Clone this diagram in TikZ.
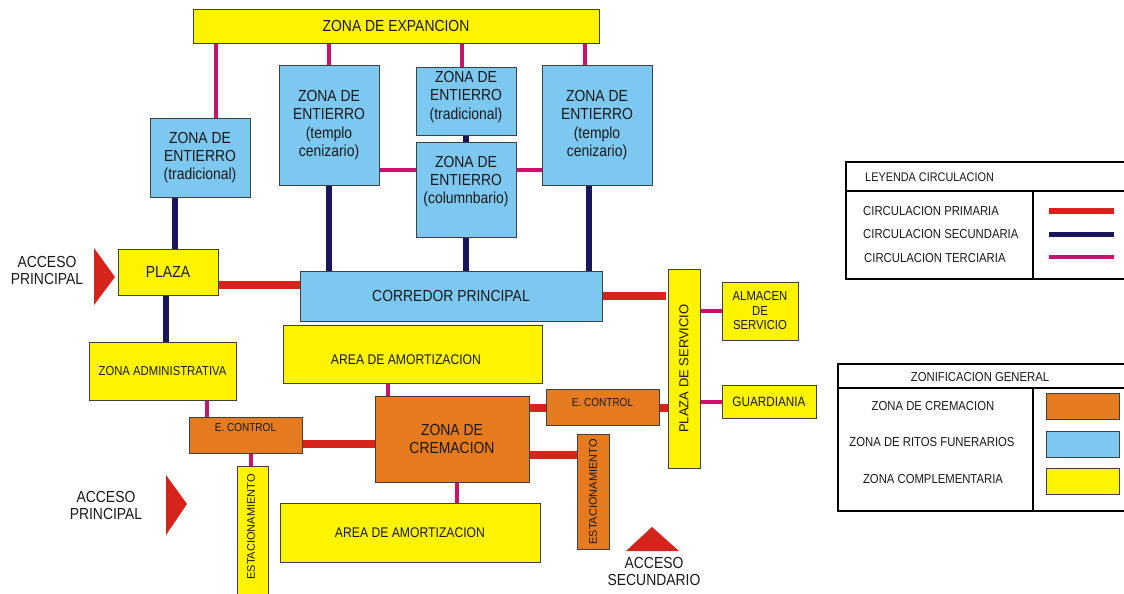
\documentclass[tikz,border=0pt]{standalone}
\usepackage{fontspec}
\setmainfont{Liberation Sans}[FakeStretch=0.87]
\newfontfamily\plainsans{Liberation Sans}
\usetikzlibrary{backgrounds}
\definecolor{zyellow}{RGB}{255,244,0}
\definecolor{zblue}{RGB}{125,200,240}
\definecolor{zorange}{RGB}{229,122,30}
\definecolor{cred}{RGB}{214,36,28}
\definecolor{cnavy}{RGB}{26,22,92}
\definecolor{cmag}{RGB}{200,18,110}
\definecolor{ink}{RGB}{25,25,25}

\begin{document}
\begin{tikzpicture}[x=1pt,y=-1pt,
  every node/.style={text=ink},
  zone/.style={draw=black!75, line width=0.8pt, inner sep=0pt, align=center,
    font=\fontsize{16}{18.3}\selectfont},
  yel/.style={zone, fill=zyellow},
  blu/.style={zone, fill=zblue},
  ora/.style={zone, fill=zorange},
  lbl/.style={inner sep=0pt, align=center},
  vert/.style={lbl, rotate=90, font=\plainsans\fontsize{11}{12}\selectfont},
  prim/.style={draw=cred, line width=8pt},
  secu/.style={draw=cnavy, line width=6pt},
  terc/.style={draw=cmag, line width=4pt},
  access/.style={fill=cred, draw=none},
  frame/.style={draw=black, line width=2.4pt},
  legtext/.style={lbl, font=\fontsize{13}{15}\selectfont}
]
\useasboundingbox (0,0) rectangle (1124,594);
\clip (0,0) rectangle (1124,594);

% --- ritual zones and expansion area
\node[yel, minimum width=406, minimum height=34] (exp) at (396,26) {ZONA DE EXPANCION};
\node[blu, minimum width=100, minimum height=79] (z1) at (200,157.5) {ZONA DE\\ENTIERRO\\(tradicional)};
\node[blu, minimum width=100, minimum height=120] (z2) at (329,125) {ZONA DE\\ENTIERRO\\(templo\\cenizario)};
\node[blu, minimum width=100, minimum height=68] (z3) at (466,101) {};
\node[lbl, font=\fontsize{16}{18.3}\selectfont] (z3t) at (466,97) {ZONA DE\\ENTIERRO\\(tradicional)};
\node[blu, minimum width=100, minimum height=95] (z4) at (466,189.5) {};
\node[lbl, font=\fontsize{16}{18.3}\selectfont] (z4t) at (466,181.5) {ZONA DE\\ENTIERRO\\(columnbario)};
\node[blu, minimum width=110, minimum height=120] (z5) at (597,125) {ZONA DE\\ENTIERRO\\(templo\\cenizario)};

% --- access, plaza and main corridor
\node[yel, minimum width=100, minimum height=46] (plaza) at (168,272) {PLAZA};
\node[blu, minimum width=302, minimum height=50] (cor) at (451,296) {CORREDOR PRINCIPAL};
\node[yel, minimum width=32, minimum height=199] (ps) at (684,368.5) {};
\node[lbl, rotate=90, font=\plainsans\fontsize{13}{15}\selectfont] (pst) at (684,368.5) {PLAZA DE SERVICIO};
\node[yel, minimum width=76, minimum height=58, font=\fontsize{13}{14.5}\selectfont] (alm) at (760,311) {ALMACEN\\DE\\SERVICIO};
\node[yel, minimum width=94, minimum height=33, font=\fontsize{13.5}{15}\selectfont] (gua) at (769,401.5) {GUARDIANIA};

% --- complementary and cremation zones
\node[yel, minimum width=259, minimum height=58] (at) at (412.5,354) {};
\node[lbl, font=\fontsize{14}{16}\selectfont] (att) at (406,360) {AREA DE AMORTIZACION};
\node[yel, minimum width=147, minimum height=58, font=\fontsize{13}{15}\selectfont] (adm) at (162.5,371) {ZONA ADMINISTRATIVA};
\node[ora, minimum width=113, minimum height=36] (ecl) at (245.5,435) {};
\node[lbl, font=\fontsize{11.5}{13}\selectfont] (eclt) at (245.5,428) {E. CONTROL};
\node[ora, minimum width=154, minimum height=86] (zc) at (452,439) {ZONA DE\\CREMACION};
\node[ora, minimum width=113, minimum height=36] (ecr) at (602.5,407) {};
\node[lbl, font=\fontsize{11.5}{13}\selectfont] (ecrt) at (602.5,403) {E. CONTROL};
\node[yel, minimum width=31, minimum height=140] (estl) at (252.5,536) {};
\node[vert] (estlt) at (251,527) {ESTACIONAMIENTO};
\node[ora, minimum width=32, minimum height=115] (estr) at (593,491.5) {};
\node[vert] (estrt) at (593,492) {ESTACIONAMIENTO};
\node[yel, minimum width=260, minimum height=59, font=\fontsize{14}{16}\selectfont] (ab) at (410,532.5) {AREA DE AMORTIZACION};

% --- access markers
\node[lbl, font=\fontsize{16}{17}\selectfont] (ap1) at (47,270.5) {ACCESO\\PRINCIPAL};
\fill[access] (94,248) -- (115,277) -- (94,305) -- cycle;
\node[lbl, font=\fontsize{16}{17}\selectfont] (ap2) at (106,505) {ACCESO\\PRINCIPAL};
\fill[access] (166,475) -- (187,504) -- (166,535) -- cycle;
\fill[access] (626,551) -- (652,527) -- (679,551) -- cycle;
\node[lbl, font=\fontsize{16}{17}\selectfont] (as) at (654,571) {ACCESO\\SECUNDARIO};

% --- circulation links
\begin{scope}[on background layer]
  % tertiary
  \draw[terc] ([xshift=16pt]z1.north) -- ([xshift=16pt]z1.north |- exp.south);
  \draw[terc] (z2.north) -- (z2.north |- exp.south);
  \draw[terc] ([xshift=-4pt]z3.north) -- ([xshift=-4pt]z3.north |- exp.south);
  \draw[terc] ([xshift=-12pt]z5.north) -- ([xshift=-12pt]z5.north |- exp.south);
  \draw[terc] ([yshift=-45pt]z2.east) -- ([yshift=-45pt]z2.east -| z4.west);
  \draw[terc] ([yshift=-45pt]z5.west) -- ([yshift=-45pt]z5.west -| z4.east);
  \draw[terc] ([xshift=-38.5pt]ecl.north) -- ([xshift=-38.5pt]ecl.north |- adm.south);
  \draw[terc] ([xshift=-1.5pt]estl.north) -- ([xshift=-1.5pt]estl.north |- ecl.south);
  \draw[terc] ([xshift=-64pt]zc.north) -- ([xshift=-64pt]zc.north |- at.south);
  \draw[terc] ([xshift=5pt]zc.south) -- ([xshift=5pt]zc.south |- ab.north);
  \draw[terc] (alm.west) -- (alm.west -| ps.east);
  \draw[terc] (gua.west) -- (gua.west -| ps.east);
  % secondary
  \draw[secu] ([xshift=7pt]plaza.north) -- ([xshift=7pt]plaza.north |- z1.south);
  \draw[secu] (z2.south) -- (z2.south |- cor.north);
  \draw[secu] (z3.south) -- (z4.north);
  \draw[secu] (z4.south) -- (z4.south |- cor.north);
  \draw[secu] ([xshift=-8pt]z5.south) -- ([xshift=-8pt]z5.south |- cor.north);
  \draw[secu] ([xshift=-2pt]plaza.south) -- ([xshift=-2pt]plaza.south |- adm.north);
  % primary
  \draw[prim] ([yshift=-13pt]plaza.east) -- ([yshift=-13pt]plaza.east -| cor.west);
  \draw[prim] (cor.east) -- ([xshift=-2pt]cor.east -| ps.west);
  \draw[prim] ([yshift=-9pt]ecl.east) -- ([yshift=-9pt]ecl.east -| zc.west);
  \draw[prim] ([yshift=-1pt]ecr.west) -- ([yshift=-1pt]ecr.west -| zc.east);
  \draw[prim] ([yshift=-1pt]ecr.east) -- ([yshift=-1pt]ecr.east -| ps.west);
  \draw[prim] ([yshift=36.5pt]estr.west) -- ([yshift=36.5pt]estr.west -| zc.east);
\end{scope}

% --- legend: circulation
\draw[frame] (846,162) rectangle (1134,279);
\draw[frame] (846,191) -- (1134,191);
\draw[frame] (1033,191) -- (1033,279);
\node[legtext, anchor=west, font=\fontsize{12.5}{14}\selectfont] (lc) at (865,177) {LEYENDA CIRCULACION};
\node[legtext, anchor=west] (lcp) at (863,211.5) {CIRCULACION PRIMARIA};
\node[legtext, anchor=west] (lcs) at (863,234.5) {CIRCULACION SECUNDARIA};
\node[legtext, anchor=west] (lct) at (864,258.5) {CIRCULACION TERCIARIA};
\coordinate (kp1) at (1049,211); \coordinate (kp2) at (1114,211);
\coordinate (ks1) at (1049,234); \coordinate (ks2) at (1114,234);
\coordinate (kt1) at (1049,257); \coordinate (kt2) at (1114,257);
\draw[cred, line width=6pt] (kp1) -- (kp2);
\draw[cnavy, line width=5pt] (ks1) -- (ks2);
\draw[cmag, line width=3.5pt] (kt1) -- (kt2);

% --- legend: zoning
\draw[frame] (838,364) rectangle (1134,511);
\draw[frame] (838,388) -- (1134,388);
\draw[frame] (1033,388) -- (1033,511);
\node[legtext] (lz) at (980,377) {ZONIFICACION GENERAL};
\node[legtext] (lzc) at (933,406) {ZONA DE CREMACION};
\node[legtext] (lzr) at (932,442) {ZONA DE RITOS FUNERARIOS};
\node[legtext] (lzm) at (933,479) {ZONA COMPLEMENTARIA};
\node[ora, minimum width=73, minimum height=26] (sw1) at (1082.5,406) {};
\node[blu, minimum width=73, minimum height=26] (sw2) at (1082.5,444) {};
\node[yel, minimum width=73, minimum height=26] (sw3) at (1082.5,481) {};
\end{tikzpicture}
\end{document}
